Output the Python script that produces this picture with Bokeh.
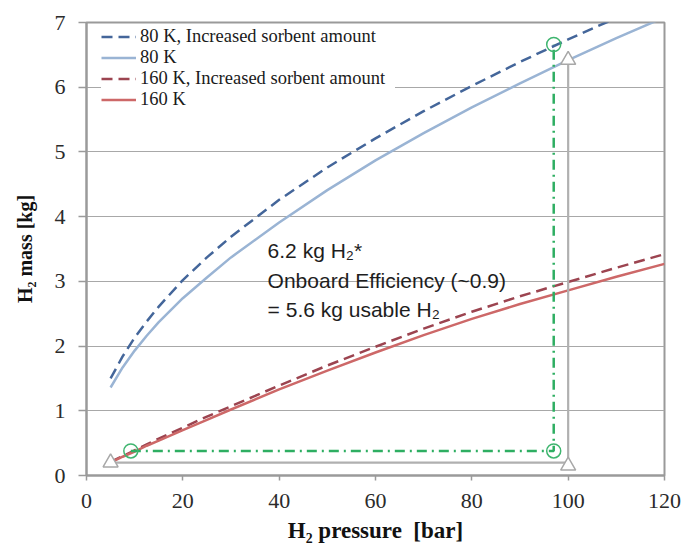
from bokeh.plotting import figure
from bokeh.models import Range1d, Legend, LegendItem, FixedTicker
from bokeh.core.properties import value
from bokeh.embed import file_html
from bokeh.resources import INLINE

# ---- data ----
pressure = [5, 7.5, 10, 12.5, 15, 20, 25, 30, 40, 50, 60, 70, 80, 90, 100, 110, 120]
mass_80K_inc = [1.50, 1.84, 2.13, 2.38, 2.61, 3.02, 3.37, 3.69, 4.26, 4.76, 5.21, 5.63, 6.02, 6.39, 6.74, 7.07, 7.38]
mass_80K = [1.36, 1.67, 1.93, 2.16, 2.37, 2.74, 3.06, 3.37, 3.91, 4.41, 4.87, 5.29, 5.69, 6.06, 6.42, 6.76, 7.08]
mass_160K_inc = [0.21, 0.30, 0.39, 0.48, 0.57, 0.74, 0.91, 1.07, 1.39, 1.70, 1.99, 2.27, 2.53, 2.77, 2.99, 3.21, 3.42]
mass_160K = [0.20, 0.29, 0.37, 0.46, 0.54, 0.70, 0.86, 1.02, 1.33, 1.62, 1.90, 2.17, 2.42, 2.65, 2.86, 3.07, 3.27]

# annotation construction (gray: sorbent at 100 bar; green: increased sorbent at 97 bar)
gray_x = [5, 100, 100]
gray_y = [0.2, 0.2, 6.42]
gray_marker_y = [0.2, 0.15, 6.42]
green_x = [9.2, 97, 97]
green_y = [0.38, 0.38, 6.66]

x_ticks = [0, 20, 40, 60, 80, 100, 120]
y_ticks = [0, 1, 2, 3, 4, 5, 6, 7]

note_lines = ["6.2 kg H\u2082*", "Onboard Efficiency (~0.9)", "= 5.6 kg usable H\u2082"]
note_x = [37.6, 37.6, 37.6]
note_y = [3.47, 3.01, 2.57]

# ---- figure ----
p = figure(frame_width=578, frame_height=453, output_backend="svg", toolbar_location=None,
           x_range=Range1d(0, 120), y_range=Range1d(0, 7),
           min_border_left=86, min_border_right=20, min_border_top=22, min_border_bottom=73)
p.background_fill_color = "white"
p.border_fill_color = "white"
p.outline_line_color = "#9a9a9a"
p.outline_line_width = 2

serif = "Liberation Serif"
for ax in (p.xaxis, p.yaxis):
    ax.axis_line_color = "#9a9a9a"
    ax.axis_line_width = 2
    ax.major_tick_line_color = "#9a9a9a"
    ax.major_tick_line_width = 1.5
    ax.major_tick_in = 0
    ax.minor_tick_line_color = None
    ax.major_label_text_font = serif
    ax.major_label_text_font_size = "22px"
    ax.major_label_text_color = "#2b2b2b"
    ax.axis_label_text_font = serif
    ax.axis_label_text_font_style = "bold"
    ax.axis_label_text_color = "#111111"

p.xaxis.ticker = FixedTicker(ticks=x_ticks)
p.yaxis.ticker = FixedTicker(ticks=y_ticks)
p.xaxis.major_tick_out = 5
p.yaxis.major_tick_out = 8
p.xaxis.major_label_standoff = 13
p.yaxis.major_label_standoff = 13
p.xaxis.axis_label = "H\u2082 pressure \u00a0[bar]"
p.yaxis.axis_label = "H\u2082 mass [kg]"
p.xaxis.axis_label_text_font_size = "23px"
p.yaxis.axis_label_text_font_size = "20px"
p.xaxis.axis_label_standoff = 7
p.yaxis.axis_label_standoff = 16

p.xgrid.grid_line_color = None
p.ygrid.grid_line_color = "#a8a8a8"
p.ygrid.grid_line_width = 1.2

# ---- curves ----
r1 = p.line(pressure, mass_80K_inc, line_color="#44669a", line_width=2.5, line_dash="11 6")
r2 = p.line(pressure, mass_80K, line_color="#9ab4d4", line_width=2.5)
r3 = p.line(pressure, mass_160K_inc, line_color="#9c4450", line_width=2.5, line_dash="11 6")
r4 = p.line(pressure, mass_160K, line_color="#cd6868", line_width=2.5)

# ---- annotation construction ----
p.line(gray_x, gray_y, line_color="#b0b0b0", line_width=2.2)
p.scatter(gray_x, gray_marker_y, marker="triangle", size=15,
          line_color="#a8a8a8", line_width=1.5, fill_color="white")
p.line(green_x, green_y, line_color="#2eae62", line_width=2.5, line_dash="10 5 2 5")
p.scatter(green_x, green_y, marker="circle", size=14, line_color="#3fb56f",
          line_width=1.5, fill_color=None)

p.text(note_x, note_y, text=note_lines, text_font=value("Liberation Sans"),
       text_font_size="21px", text_color="#1e1e1e", text_baseline="middle", text_align="left")

# ---- legend ----
legend = Legend(items=[
    LegendItem(label="80 K, Increased sorbent amount", renderers=[r1]),
    LegendItem(label="80 K", renderers=[r2]),
    LegendItem(label="160 K, Increased sorbent amount", renderers=[r3]),
    LegendItem(label="160 K", renderers=[r4]),
], location=(15, 365))
legend.margin = 0
legend.padding = 5
legend.spacing = 0
legend.glyph_width = 35
legend.glyph_height = 21
legend.label_height = 21
legend.label_width = 255
legend.label_standoff = 4
legend.label_text_font = serif
legend.label_text_font_size = "18.5px"
legend.label_text_color = "#1a1a1a"
legend.border_line_color = None
legend.background_fill_color = "white"
legend.background_fill_alpha = 1.0
p.add_layout(legend)

open("out.html", "w").write(file_html(p, INLINE))
